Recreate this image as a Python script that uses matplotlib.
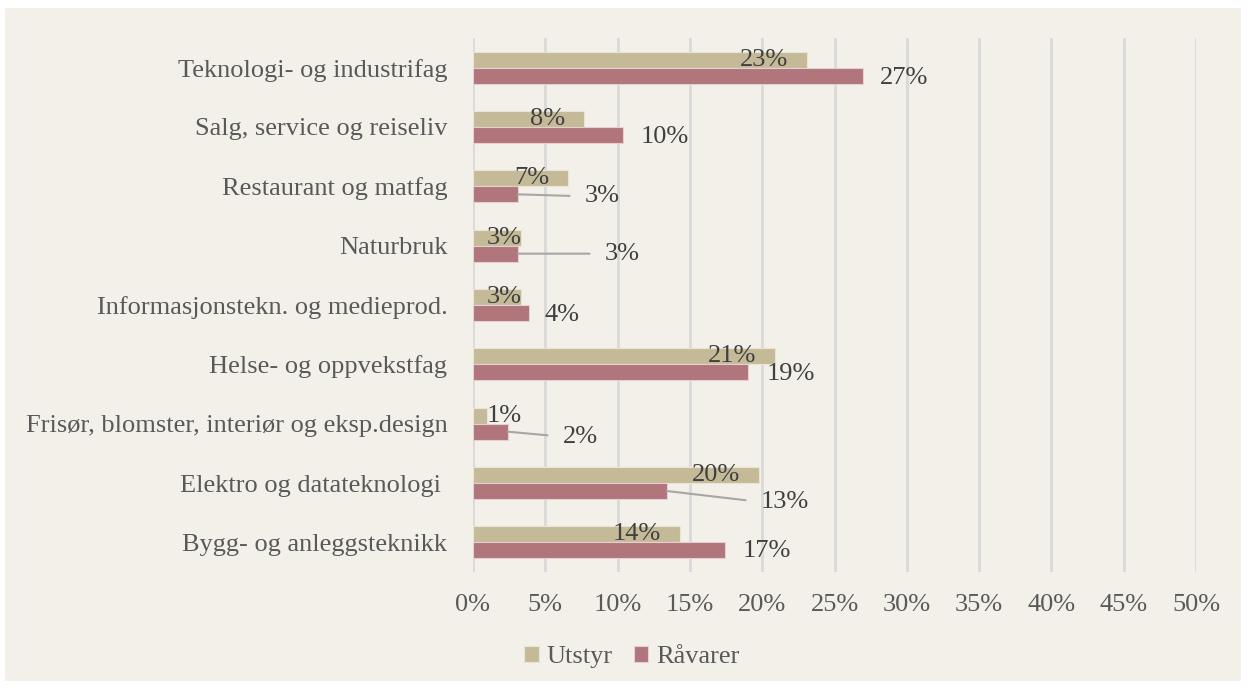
import matplotlib.pyplot as plt
from matplotlib.patches import Rectangle
import numpy as np

# Data (bottom to top as drawn)
categories = ["Bygg- og anleggsteknikk", "Elektro og datateknologi ",
              "Frisør, blomster, interiør og eksp.design", "Helse- og oppvekstfag",
              "Informasjonstekn. og medieprod.", "Naturbruk",
              "Restaurant og matfag", "Salg, service og reiseliv",
              "Teknologi- og industrifag"]
utstyr = [14.3, 19.8, 1.0, 20.9, 3.3, 3.3, 6.6, 7.7, 23.1]
ravarer = [17.4, 13.4, 2.4, 19.0, 3.9, 3.1, 3.1, 10.4, 27.0]
series_names = ["Utstyr", "Råvarer"]
xticks = [0, 5, 10, 15, 20, 25, 30, 35, 40, 45, 50]

# Label placement for Råvarer (pixels from bar end), and which get leader lines
rav_dx = [18, 94, 55, 19, 15, 87, 67, 17, 16]
rav_dy = [-1, -11, -5, -2, -2, 0, -2, -2, -2]
rav_leader = [False, True, True, False, False, True, True, False, False]

bg = "#F3F0EA"
c_ut = "#C4BA98"
c_rav = "#B0767C"
fs = 19

plt.rcParams['font.family'] = ['Liberation Serif', 'DejaVu Serif']

fig = plt.figure(figsize=(12.49, 6.89), dpi=100)
fig.patch.set_facecolor("white")
fig.patches.append(Rectangle((5 / 1249, 8 / 689), 1236 / 1249, 673 / 689,
                             transform=fig.transFigure, facecolor=bg,
                             edgecolor="none", zorder=-10))
ax = fig.add_axes([473 / 1249, 1 - 572 / 689, 723 / 1249, 534 / 689])
ax.set_zorder(1)
ax.set_facecolor(bg)

y = np.arange(len(categories))
h = 0.27
ax.barh(y + h / 2, utstyr, height=h, color=c_ut, edgecolor="#EAE4D4",
        linewidth=0.8, zorder=3, label=series_names[0])
ax.barh(y - h / 2, ravarer, height=h, color=c_rav, edgecolor="#E6CFD1",
        linewidth=0.8, zorder=3, label=series_names[1])

ax.set_xlim(0, 50)
ax.set_ylim(-0.5, 8.5)
ax.set_xticks(xticks)
ax.set_xticklabels([f"{t}%" for t in xticks])
ax.set_yticks(y)
ax.set_yticklabels(categories)
ax.tick_params(axis='both', length=0, labelsize=fs, labelcolor="#595959")
ax.tick_params(axis='y', pad=18.5)
ax.tick_params(axis='x', pad=16)
ax.xaxis.grid(True, color="#D9D9D9", linewidth=2, zorder=0)
ax.set_axisbelow(True)
for s in ax.spines.values():
    s.set_visible(False)

px = 723 / 50  # pixels per percent
for i, v in enumerate(utstyr):
    xr = max(v - 19 / px, 522 / px - 473 / px)
    ax.text(xr, i + h / 2, f"{round(v)}%", ha='right', va='center',
            fontsize=fs, color="#404040", zorder=5)

for i, v in enumerate(ravarer):
    props = None
    if rav_leader[i]:
        props = dict(arrowstyle='-', color="#A6A6A6", lw=1.5,
                     shrinkA=9, shrinkB=0, relpos=(0, 0.5))
    ax.annotate(f"{round(v)}%", xy=(v, i - h / 2),
                xytext=(rav_dx[i], rav_dy[i]), textcoords='offset pixels',
                ha='left', va='center', fontsize=fs, color="#404040",
                arrowprops=props, zorder=5)

fig.legend(loc='center', bbox_to_anchor=(0.506, 0.046), ncol=2, frameon=False,
           fontsize=fs, labelcolor="#595959", handlelength=0.55,
           handleheight=0.55, handletextpad=0.3, columnspacing=0.8)

fig.savefig("out.png", dpi=100, facecolor=fig.get_facecolor())
